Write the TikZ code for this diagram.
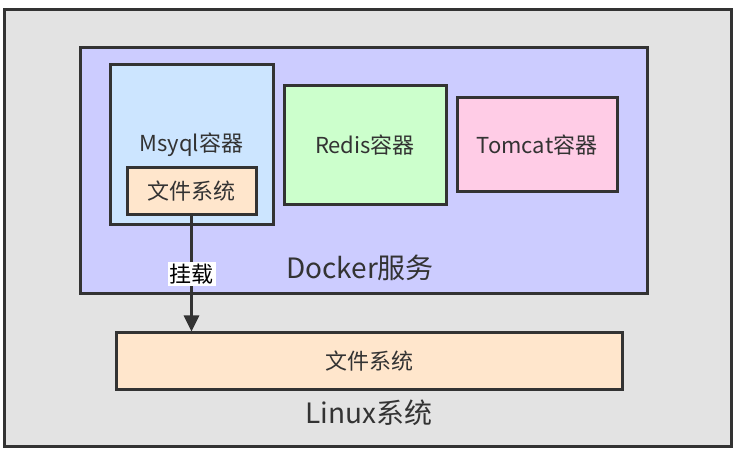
\documentclass[tikz,border=0pt]{standalone}
\usepackage{fontspec}
\setmainfont{Noto Sans CJK SC}
\usetikzlibrary{arrows.meta}
\definecolor{linecol}{HTML}{333333}
\definecolor{hostfill}{HTML}{E3E3E3}
\definecolor{dockerfill}{HTML}{CCCCFF}
\definecolor{mysqlfill}{HTML}{CCE5FF}
\definecolor{redisfill}{HTML}{CCFFCC}
\definecolor{tomcatfill}{HTML}{FFCCE6}
\definecolor{fsfill}{HTML}{FFE6CC}
\tikzstyle{box} = [rectangle, draw=linecol, line width=3pt, text=linecol,
  inner sep=0pt, font=\fontsize{22}{26}\selectfont, text centered]
\tikzstyle{container} = [box, minimum width=162pt]
\tikzstyle{fsbox} = [box, fill=fsfill]
\tikzstyle{biglabel} = [text=linecol, font=\fontsize{28}{32}\selectfont]
\tikzstyle{arrow} = [line width=3pt, draw=linecol, -{Triangle[length=16pt,width=15pt]}]

\begin{document}
\begin{tikzpicture}[x=1pt, y=-1pt]

  \useasboundingbox (0,0) rectangle (739,454);

  %% Host and docker service
  \node (host) [box, fill=hostfill, minimum width=727pt, minimum height=437pt] at (368,228) {};
  \node (docker) [box, fill=dockerfill, minimum width=567pt, minimum height=246pt] at (363.5,171) {};
  \node (dockerlabel) [biglabel] at (360,268) {Docker服务};

  %% Containers
  \node (mysql) [container, fill=mysqlfill, minimum width=163pt, minimum height=160pt] at (191.5,145) {Msyql容器};
  \node (fs1) [fsbox, minimum width=129pt, minimum height=47pt] at (191.5,191.5) {文件系统};
  \node (redis) [container, fill=redisfill, minimum height=119pt] at (365,145.5) {Redis容器};
  \node (tomcat) [container, fill=tomcatfill, minimum width=160pt, minimum height=94pt] at (537,145) {Tomcat容器};

  %% Host file system
  \node (fs2) [fsbox, minimum width=506pt, minimum height=56pt] at (369,361) {文件系统};
  \node (linuxlabel) [biglabel] at (369,413) {Linux系统};

  %% Mount
  \draw [arrow] (fs1.south) -- node[fill=white, text=black, inner sep=2pt,
    font=\fontsize{22}{26}\selectfont] {挂载} (fs1.south |- fs2.north);

\end{tikzpicture}
\end{document}
